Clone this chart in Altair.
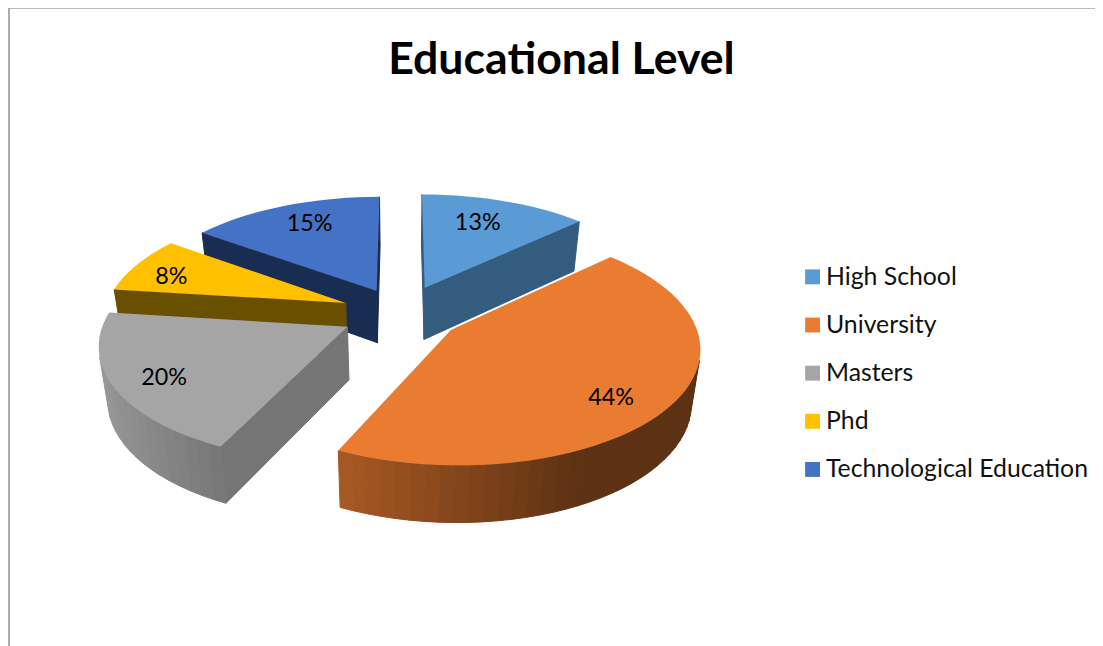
import math
import altair as alt

categories = ["High School", "University", "Masters", "Phd", "Technological Education"]
values = [13, 44, 20, 8, 15]
labels = ["13%", "44%", "20%", "8%", "15%"]
top_colors = ["#5B9BD5", "#EA7C31", "#A5A5A5", "#FFC000", "#4472C4"]
wall_colors = ["#335C7F", "#5E2F12", "#757575", "#685000", "#192C52"]
label_reach = [0.62, 0.78, 0.86, 0.82, 0.70]
explode = [0.255, 0.25, 0.25, 0.25, 0.23]
paint_order = [0, 4, 3, 2, 1]

# Layout of the tilted, exploded pie in perspective
CX, CY = 404.0, 313.0
RX, RY = 243.0, 113.0
K = 0.135
DEPTH = 53.0
BASE_SHRINK = 0.97
LABEL_NUDGE = [(1, -9), (-9, 11), (16, 0), (-2, 6), (0, -5)]


def project(X, Z, bottom=False):
    s = 1.0 / (1.0 + K * Z)
    sx = RX * X * s
    y = CY - RY * Z * s
    if bottom:
        return [CX + sx * BASE_SHRINK, y + DEPTH * s ** 0.5]
    return [CX + sx, y]


def hexshade(col, f):
    r, g, b = int(col[1:3], 16), int(col[3:5], 16), int(col[5:7], 16)
    return "#%02x%02x%02x" % (int(r * f), int(g * f), int(b * f))


def feature(points, fill, cat=""):
    ring = [list(p) for p in points] + [list(points[0])]
    return {
        "type": "Feature",
        "geometry": {"type": "Polygon", "coordinates": [ring]},
        "properties": {"fill": fill, "cat": cat},
    }


def area(q):
    return sum(q[k][0] * q[(k + 1) % 4][1] - q[(k + 1) % 4][0] * q[k][1] for k in range(4))


total = sum(values)
starts, acc = [], 0.0
for v in values:
    starts.append(acc)
    acc += v / total * 2 * math.pi

walls, tops, texts = [], [], []
for i in paint_order:
    t0 = starts[i]
    t1 = t0 + values[i] / total * 2 * math.pi
    mid = (t0 + t1) / 2
    ox, oz = explode[i] * math.sin(mid), explode[i] * math.cos(mid)
    n = max(4, int((t1 - t0) / math.radians(3.0)))
    angs = [t0 + (t1 - t0) * j / n for j in range(n + 1)]
    rim = [(ox + math.sin(a), oz + math.cos(a)) for a in angs]

    # radial walls
    apex_t, apex_b = project(ox, oz), project(ox, oz, True)
    for idx, sign in ((0, -1), (-1, 1)):
        rt, rb = project(*rim[idx]), project(*rim[idx], True)
        q = [apex_t, rt, rb, apex_b]
        if area(q) * sign > 0:
            walls.append(feature(q, wall_colors[i]))
    # outer wall, shaded strip by strip
    for j in range(n):
        q = [project(*rim[j]), project(*rim[j + 1]), project(*rim[j + 1], True), project(*rim[j], True)]
        if area(q) < 0:
            nx = math.sin((angs[j] + angs[j + 1]) / 2)
            f = max(0.40, 0.72 - 0.37 * (nx + 0.42))
            walls.append(feature(q, hexshade(top_colors[i], f)))
    tops.append(feature([apex_t] + [project(*p) for p in rim], top_colors[i], categories[i]))

    fr = label_reach[i]
    px, py = project(ox + fr * math.sin(mid), oz + fr * math.cos(mid))
    texts.append({"lx": px + LABEL_NUDGE[i][0], "ly": py + LABEL_NUDGE[i][1], "label": labels[i]})

proj = dict(type="identity", scale=1, translate=[-8, -8])

wall_layer = (
    alt.Chart(alt.InlineData(values={"type": "FeatureCollection", "features": walls},
                             format=alt.DataFormat(property="features", type="json")))
    .mark_geoshape(strokeWidth=1.0)
    .encode(
        fill=alt.Fill("properties.fill:N", scale=None, legend=None),
        stroke=alt.Stroke("properties.fill:N", scale=None, legend=None),
    )
    .project(**proj)
)

top_layer = (
    alt.Chart(alt.InlineData(values={"type": "FeatureCollection", "features": tops},
                             format=alt.DataFormat(property="features", type="json")))
    .mark_geoshape(strokeWidth=0)
    .encode(
        color=alt.Color(
            "properties.cat:N",
            scale=alt.Scale(domain=categories, range=top_colors),
            sort=categories,
            legend=alt.Legend(
                title=None,
                orient="none",
                legendX=798,
                legendY=256,
                symbolType="square",
                symbolSize=225,
                symbolStrokeWidth=0,
                labelFont="Lato",
                labelFontSize=25,
                labelColor="#111111",
                labelLimit=400,
                labelOffset=1,
                rowPadding=22.5,
                padding=0,
            ),
        )
    )
    .project(**proj)
)

text_layer = (
    alt.Chart(alt.Data(values=texts))
    .mark_text(font="Lato", fontSize=23.5, color="#000000", baseline="middle", align="center")
    .encode(longitude="lx:Q", latitude="ly:Q", text="label:N")
    .project(**proj)
)

left_border = alt.Chart(alt.Data(values=[{}])).mark_rule(color="#ABABAB", strokeWidth=2).encode(
    x=alt.value(1), y=alt.value(-3), y2=alt.value(645)
)
top_border = alt.Chart(alt.Data(values=[{}])).mark_rule(color="#ABABAB", strokeWidth=1).encode(
    x=alt.value(0), x2=alt.value(1095), y=alt.value(-2)
)

chart = (
    alt.layer(wall_layer, top_layer, text_layer, left_border, top_border)
    .resolve_scale(color="independent")
    .properties(
        width=1095,
        height=638,
        padding=0,
        autosize=alt.AutoSizeParams(type="none"),
        title=alt.TitleParams(
            "Educational Level",
            font="Lato",
            fontSize=45,
            fontWeight="bold",
            color="#000000",
            anchor="start",
            align="center",
            baseline="alphabetic",
            offset=0,
            dx=558,
            dy=113,
        ),
    )
    .configure_view(stroke=None)
)

chart.save("out.html", embed_options={"renderer": "svg", "actions": False})
